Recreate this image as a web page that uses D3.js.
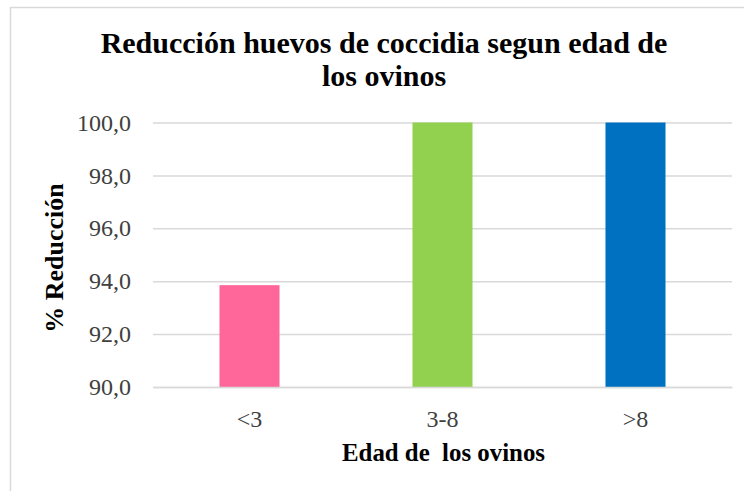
<!DOCTYPE html>
<html>
<head>
<meta charset="utf-8">
<script src="https://cdn.jsdelivr.net/npm/d3@7"></script>
<style>
html,body{margin:0;padding:0;background:#fff;}
svg{display:block;}
svg text{font-family:"Liberation Serif","Times New Roman",Times,serif;}
</style>
</head>
<body>
<script>
const categories = ["<3", "3-8", ">8"];
const values = [93.85, 100, 100];
const barColors = ["#FF6699", "#92D050", "#0070C0"];
const yTicks = [90, 92, 94, 96, 98, 100];
const titleLines = ["Reducción huevos de coccidia segun edad de", "los ovinos"];
const xTitle = "Edad de  los ovinos";
const yTitle = "% Reducción";

(function () {
const W = 744, H = 491;
const svg = d3.select("body").append("svg").attr("width", W).attr("height", H);
svg.append("rect").attr("width", W).attr("height", H).attr("fill", "#fff");

// chart border (top and left visible)
svg.append("path").attr("d", `M10.5,${H}V7.5H${W}`)
  .attr("fill", "none").attr("stroke", "#d9d9d9").attr("stroke-width", 1.5);

const pL = 153, pR = 732, pT = 122.5, pB = 387;
const x = d3.scaleBand().domain(categories).range([pL, pR]).paddingInner(0.689).paddingOuter(0.3445);
const y = d3.scaleLinear().domain([90, 100]).range([pB, pT]);

const fontSerif = "Liberation Serif, Times New Roman, serif";

// y axis with gridlines
const yAxis = svg.append("g").attr("transform", `translate(${pL},0)`)
  .call(d3.axisLeft(y).tickValues(yTicks).tickSize(-(pR - pL)).tickPadding(22)
    .tickFormat(d => d.toFixed(1).replace(".", ",")));
yAxis.attr("font-family", fontSerif).attr("font-size", 24);
yAxis.select(".domain").remove();
yAxis.selectAll(".tick line").attr("stroke", "#d9d9d9").attr("stroke-width", 1.5);
yAxis.selectAll(".tick text").attr("fill", "#404040");

// bars
svg.append("g").selectAll("rect").data(categories).join("rect")
  .attr("x", d => x(d))
  .attr("width", x.bandwidth())
  .attr("y", (d, i) => y(values[i]))
  .attr("height", (d, i) => y(90) - y(values[i]))
  .attr("fill", (d, i) => barColors[i]);

// x axis
const xAxis = svg.append("g").attr("transform", `translate(0,${pB})`)
  .call(d3.axisBottom(x).tickSize(0).tickPadding(23));
xAxis.attr("font-family", fontSerif).attr("font-size", 24);
xAxis.select(".domain").attr("stroke", "#d9d9d9").attr("stroke-width", 1.5);
xAxis.selectAll(".tick text").attr("fill", "#404040");

// title
const title = svg.append("text").attr("text-anchor", "middle")
  .attr("font-family", fontSerif).attr("font-weight", "bold").attr("font-size", 30).attr("fill", "#000");
title.append("tspan").attr("x", 384).attr("y", 52.5).text(titleLines[0]);
title.append("tspan").attr("x", 384).attr("y", 86).text(titleLines[1]);

// x title
svg.append("text").attr("x", 443.5).attr("y", 460.5).attr("text-anchor", "middle")
  .attr("font-family", fontSerif).attr("font-weight", "bold").attr("font-size", 26)
  .style("white-space", "pre").attr("fill", "#000")
  .attr("textLength", 203).attr("lengthAdjust", "spacingAndGlyphs")
  .text(xTitle);

// y title
svg.append("text").attr("transform", "translate(62.5,258) rotate(-90)").attr("text-anchor", "middle")
  .attr("font-family", fontSerif).attr("font-weight", "bold").attr("font-size", 26).attr("fill", "#000")
  .text(yTitle);
})();
</script>
</body>
</html>
